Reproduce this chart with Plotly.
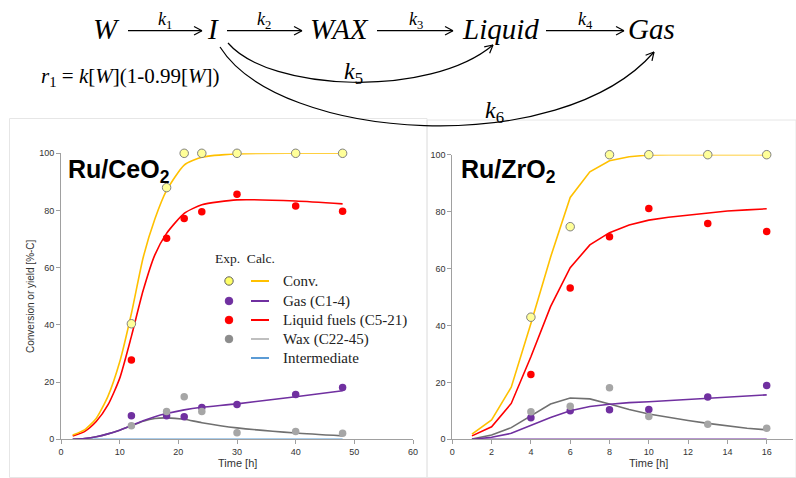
import math
import plotly.graph_objects as go

W, H = 796, 478
def px(x): return x / W
def py(y): return 1 - y / H

# ---------------- data ----------------
ce_exp_t = [12, 18, 21, 24, 30, 40, 48]
ce_exp_conv = [40.4, 88, 100, 100, 100, 100, 100]
ce_exp_liq = [27.7, 70.3, 77.2, 79.6, 85.7, 81.6, 79.7]
ce_exp_gas = [8.2, 8.2, 7.9, 11.1, 12.2, 15.7, 18.1]
ce_exp_wax = [4.7, 9.7, 14.9, 9.7, 2.3, 2.7, 2.1]

ce_calc_t = [2, 4, 6, 8, 10, 12, 14, 16, 18, 21, 24, 30, 40, 48]
ce_calc_conv = [1.5, 3.3, 7.3, 15, 27, 44, 63.5, 77, 87, 95.9, 98.6, 99.8, 100, 100]
ce_calc_liq = [1.2, 2.7, 6.2, 12, 21.3, 36, 52, 64.5, 72, 79, 82, 83.7, 83.3, 82.3]
ce_calc_gas = [0, 0.3, 0.9, 1.9, 3.2, 4.8, 6.5, 7.9, 9, 10.3, 11.2, 12.4, 14.9, 17]
ce_calc_wax = [0, 0.3, 0.9, 1.9, 3.2, 4.7, 6.3, 7.3, 7.5, 7, 5.8, 4, 2.2, 1.2]
ce_calc_int = [0] * len(ce_calc_t)

zr_exp_t = [4, 6, 8, 10, 13, 16]
zr_exp_conv = [42.9, 74.7, 100, 100, 100, 100]
zr_exp_liq = [22.8, 53.2, 71.2, 81.1, 75.8, 73]
zr_exp_gas = [7.6, 10, 10.4, 10.5, 14.9, 18.9]
zr_exp_wax = [9.7, 11.6, 18.1, 8.0, 5.3, 3.9]

zr_calc_t = list(range(1, 17))
zr_calc_conv = [1.8, 6.8, 18.3, 40.7, 64, 85, 94, 97.9, 99.3, 99.9, 100, 100, 100, 100, 100, 100]
zr_calc_liq = [1.2, 4.4, 12.6, 29, 46.6, 60.3, 68.3, 72.6, 75.3, 77, 78, 78.8, 79.5, 80.2, 80.6, 81]
zr_calc_wax = [0.1, 1.5, 4.1, 8.2, 12.4, 14.5, 14.2, 12.4, 10.5, 8.9, 7.7, 6.6, 5.6, 4.7, 3.9, 3.3]
zr_calc_gas = [0, 0.7, 2.1, 5, 7.7, 10, 11.5, 12.3, 12.9, 13.2, 13.6, 14, 14.4, 14.8, 15.2, 15.6]
zr_calc_int = [0] * len(zr_calc_t)

ce_xticks = [0, 10, 20, 30, 40, 50, 60]
zr_xticks = [0, 2, 4, 6, 8, 10, 12, 14, 16]
yticks = [0, 20, 40, 60, 80, 100]

legend_items = ["Conv.", "Gas (C1-4)", "Liquid fuels (C5-21)", "Wax (C22-45)", "Intermediate"]

YELLOW = "#ffc000"
PURPLE = "#7030a0"
RED = "#ff0000"
GRAYM = "#a6a6a6"
GRAYL = "#707070"
BLUE = "#5b9bd5"

fig = go.Figure()

def add_panel(xa, ya, t_c, conv_c, liq_c, gas_c, wax_c, int_c, int_col, shape,
              t_e, conv_e, liq_e, gas_e, wax_e):
    for y, col in [(int_c, int_col), (wax_c, GRAYL), (gas_c, PURPLE), (liq_c, RED), (conv_c, YELLOW)]:
        line = dict(color=col, width=1.6, shape=shape)
        if shape == "spline":
            line["smoothing"] = 0.6
        fig.add_trace(go.Scatter(x=t_c, y=y, mode="lines", xaxis=xa, yaxis=ya, line=line,
                                 showlegend=False, cliponaxis=False, hoverinfo="skip"))
    fig.add_trace(go.Scatter(x=t_e, y=conv_e, mode="markers", xaxis=xa, yaxis=ya,
                             marker=dict(color="#ffff99", size=8.5, line=dict(color="#808080", width=1)),
                             showlegend=False, cliponaxis=False))
    for y, col in [(gas_e, PURPLE), (liq_e, RED), (wax_e, GRAYM)]:
        fig.add_trace(go.Scatter(x=t_e, y=y, mode="markers", xaxis=xa, yaxis=ya,
                                 marker=dict(color=col, size=7.5, line=dict(width=0)),
                                 showlegend=False, cliponaxis=False))

add_panel("x", "y", ce_calc_t, ce_calc_conv, ce_calc_liq, ce_calc_gas, ce_calc_wax, ce_calc_int, BLUE,
          "spline", ce_exp_t, ce_exp_conv, ce_exp_liq, ce_exp_gas, ce_exp_wax)
add_panel("x2", "y2", zr_calc_t, zr_calc_conv, zr_calc_liq, zr_calc_gas, zr_calc_wax, zr_calc_int, PURPLE,
          "linear", zr_exp_t, zr_exp_conv, zr_exp_liq, zr_exp_gas, zr_exp_wax)

axis_common = dict(showgrid=False, zeroline=False, showline=True, linecolor="#a0a0a0", linewidth=1,
                   ticks="outside", ticklen=4, tickcolor="#a0a0a0", automargin=False,
                   tickfont=dict(family="Liberation Sans", size=9, color="#333333"))

fig.update_layout(
    template="none",
    width=W, height=H, autosize=False,
    margin=dict(l=0, r=0, t=0, b=0, pad=0, autoexpand=False),
    paper_bgcolor="white", plot_bgcolor="white", showlegend=False,
    xaxis=dict(domain=[px(61), px(413)], range=[0, 60], tickvals=ce_xticks, anchor="y", **axis_common),
    yaxis=dict(domain=[py(439.3), py(153.3)], range=[0, 100], tickvals=yticks, anchor="x", **axis_common),
    xaxis2=dict(domain=[px(452.3), px(793)], range=[0, (793 - 452.3) / 19.65], tickvals=zr_xticks,
                anchor="y2", **axis_common),
    yaxis2=dict(domain=[py(439.3), py(154.7)], range=[0, 100], tickvals=yticks, anchor="x2", **axis_common),
)

shapes = []
ann = []

def text(t, x, y, size, family="Liberation Sans", color="black", xanchor="center", angle=0):
    ann.append(dict(text=t, x=px(x), y=py(y), xref="paper", yref="paper", showarrow=False,
                    xanchor=xanchor, yanchor="middle", textangle=angle,
                    font=dict(family=family, size=size, color=color)))

# panel frames
shapes.append(dict(type="rect", xref="paper", yref="paper", x0=px(9.5), x1=px(427), y0=py(477.5), y1=py(118.5),
                   line=dict(color="#e6e6e6", width=1)))
shapes.append(dict(type="rect", xref="paper", yref="paper", x0=px(427), x1=px(796), y0=py(477.5), y1=py(120),
                   line=dict(color="#e6e6e6", width=1)))

# axis titles
text("Time [h]", 237, 463, 11, color="#333333")
text("Time [h]", 648, 463, 11, color="#333333")
text("Conversion or yield [%-C]", 30, 296, 10, color="#333333", angle=-90)

# panel labels
text("<b>Ru/CeO<sub>2</sub></b>", 66, 171, 25, xanchor="left")
text("<b>Ru/ZrO<sub>2</sub></b>", 459, 171, 25, xanchor="left")

# legend (Exp. / Calc.)
serif = "Liberation Serif"
text("Exp.  Calc.", 213, 258, 13.5, family=serif, color="#222222", xanchor="left")
leg_rows = [281, 301, 320, 339, 358]
leg_mfill = ["#ffff66", PURPLE, RED, "#8c8c8c", None]
leg_lcol = [YELLOW, PURPLE, RED, "#bfbfbf", BLUE]
for i, (name, yy) in enumerate(zip(legend_items, leg_rows)):
    if leg_mfill[i]:
        r = 4.2 if i == 0 else 3.8
        shapes.append(dict(type="circle", xref="paper", yref="paper",
                           x0=px(229 - r), x1=px(229 + r), y0=py(yy + r), y1=py(yy - r),
                           fillcolor=leg_mfill[i],
                           line=dict(color="#606060" if i == 0 else leg_mfill[i], width=1)))
    shapes.append(dict(type="line", xref="paper", yref="paper", x0=px(251), x1=px(269), y0=py(yy), y1=py(yy),
                       line=dict(color=leg_lcol[i], width=2)))
    text(name, 281, yy, 15, family=serif, color="#222222", xanchor="left")

# ---------------- reaction scheme ----------------
def head(x, y, dx, dy, L=9, ang=28):
    n = math.hypot(dx, dy)
    ux, uy = dx / n, dy / n
    out = []
    for s in (1, -1):
        a = math.radians(ang) * s
        bx = -(ux * math.cos(a) - uy * math.sin(a))
        by = -(ux * math.sin(a) + uy * math.cos(a))
        out.append(dict(type="line", xref="paper", yref="paper", x0=px(x), y0=py(y),
                        x1=px(x + L * bx), y1=py(y + L * by), line=dict(color="black", width=1.2)))
    return out

AY = 30.7
for x0, x1 in [(128, 202), (227, 302), (377, 453), (546, 624)]:
    shapes.append(dict(type="line", xref="paper", yref="paper", x0=px(x0), x1=px(x1), y0=py(AY), y1=py(AY),
                       line=dict(color="black", width=1.2)))
    shapes += head(x1, AY, 1, 0)

def bez(p0, p1, p2, p3):
    pts = [p0, p1, p2, p3]
    s = "M {},{} C {},{} {},{} {},{}".format(*[v for p in pts for v in (px(p[0]), py(p[1]))])
    return dict(type="path", xref="paper", yref="paper", path=s, line=dict(color="black", width=1.2))

c5 = [(228, 43), (270, 92), (430, 98), (493, 45)]
c6 = [(220, 47), (280, 142), (560, 160), (654, 52)]
shapes.append(bez(*c5))
shapes += head(c5[3][0], c5[3][1], c5[3][0] - c5[2][0], c5[3][1] - c5[2][1])
shapes.append(bez(*c6))
shapes += head(c6[3][0], c6[3][1], c6[3][0] - c6[2][0], c6[3][1] - c6[2][1])

species = [("W", 106.5), ("I", 213), ("WAX", 339), ("Liquid", 500), ("Gas", 651.5)]
for name, xc in species:
    text("<i>%s</i>" % name, xc, 29, 29, family=serif)
for k, xc in [(1, 165), (2, 264), (3, 416), (4, 585)]:
    text("<i>k</i><sub>%d</sub>" % k, xc, 20, 18, family=serif)
for k, xc, yc in [(5, 353, 73), (6, 494, 112)]:
    text("<i>k</i><sub>%d</sub>" % k, xc, yc, 24, family=serif)
text("<i>r</i><sub>1</sub> = <i>k</i>[<i>W</i>](1-0.99[<i>W</i>])", 130, 77, 21, family=serif)

fig.update_layout(shapes=shapes, annotations=ann)
fig.write_html("out.html", config={"displayModeBar": False},
               post_script="document.body.style.margin='0px';")
